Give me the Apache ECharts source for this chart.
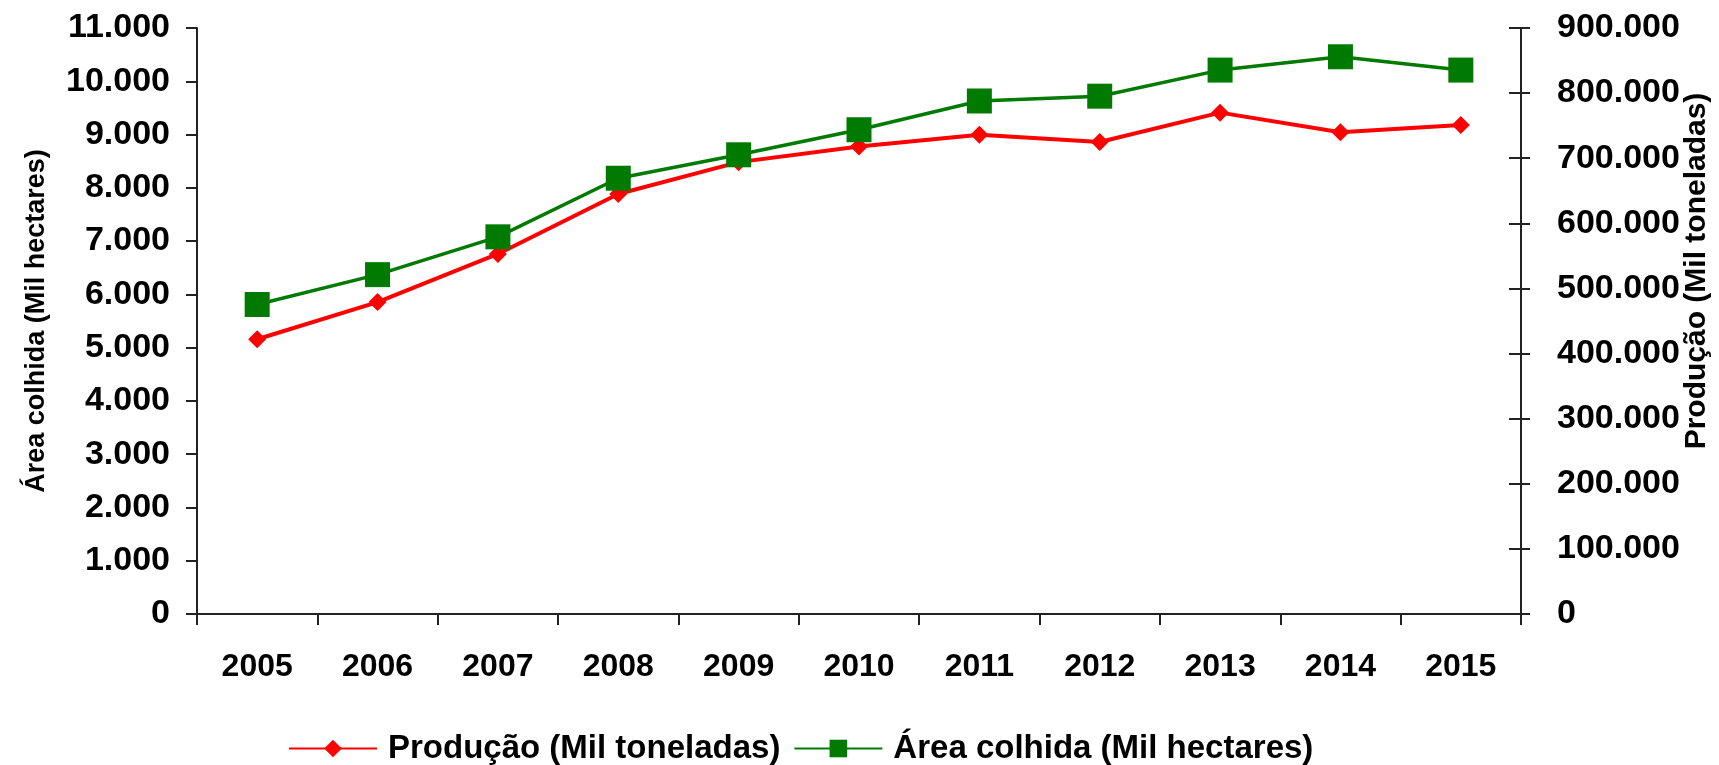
<!DOCTYPE html>
<html>
<head>
<meta charset="utf-8">
<script src="https://cdn.jsdelivr.net/npm/echarts@6/dist/echarts.min.js"></script>
<style>
  html, body { margin: 0; padding: 0; background: #fff; }
  #chart { width: 1719px; height: 765px; }
</style>
</head>
<body>
<div id="chart"></div>
<script>
// anos no eixo x
const years = ['2005', '2006', '2007', '2008', '2009', '2010', '2011', '2012', '2013', '2014', '2015']
// Produção (Mil toneladas) - eixo direito
const producao = [422000, 479000, 553000, 645000, 694000, 718000, 736000, 725000, 770000, 740000, 751000]
// Área colhida (Mil hectares) - eixo esquerdo
const areaColhida = [5810, 6370, 7080, 8180, 8620, 9090, 9630, 9720, 10210, 10460, 10210]

const fmt = v => String(v).replace(/\B(?=(\d{3})+(?!\d))/g, '.')

const font = 'Arial, "Liberation Sans", sans-serif'
const axisColor = '#222'

const chart = echarts.init(document.getElementById('chart'))
chart.setOption({
  backgroundColor: '#fff',
  animation: false,
  textStyle: { fontFamily: font },
  grid: { left: 197, right: 198, top: 28, bottom: 151, outerBoundsMode: 'none', containLabel: false },
  legend: {
    left: 283,
    top: 727,
    itemWidth: 88,
    itemHeight: 22,
    itemGap: 13,
    textStyle: { fontSize: 33, fontWeight: 'bold', color: '#000', padding: [0, 0, 0, 6] },
    data: ['Produção (Mil toneladas)', 'Área colhida (Mil hectares)']
  },
  xAxis: {
    type: 'category',
    data: years,
    boundaryGap: true,
    axisLine: { lineStyle: { color: axisColor, width: 2 } },
    axisTick: { show: true, length: 11, lineStyle: { color: axisColor, width: 2 } },
    axisLabel: { fontSize: 32, fontWeight: 'bold', color: '#000', margin: 37 }
  },
  yAxis: [
    {
      type: 'value',
      position: 'left',
      min: 0,
      max: 11000,
      interval: 1000,
      name: 'Área colhida (Mil hectares)',
      nameLocation: 'middle',
      nameGap: 147,
      nameMoveOverlap: false,
      nameTextStyle: { fontSize: 27, fontWeight: 'bold', color: '#000' },
      splitLine: { show: false },
      axisLine: { show: true, lineStyle: { color: axisColor, width: 2 } },
      axisTick: { show: true, length: 11, lineStyle: { color: axisColor, width: 2 } },
      axisLabel: { fontSize: 34, fontWeight: 'bold', color: '#000', margin: 27, formatter: fmt }
    },
    {
      type: 'value',
      position: 'right',
      min: 0,
      max: 900000,
      interval: 100000,
      name: 'Produção (Mil toneladas)',
      nameLocation: 'middle',
      nameGap: 161,
      nameRotate: 90,
      nameMoveOverlap: false,
      // empurra o título um pouco para cima, como no original
      nameTextStyle: { fontSize: 30, fontWeight: 'bold', color: '#000', padding: [0, 0, 0, 100] },
      splitLine: { show: false },
      axisLine: { show: true, lineStyle: { color: axisColor, width: 2 } },
      axisTick: { show: true, length: 9, lineStyle: { color: axisColor, width: 2 } },
      axisLabel: { fontSize: 34, fontWeight: 'bold', color: '#000', margin: 36, formatter: fmt }
    },
    {
      // só para os traços internos do eixo direito
      type: 'value',
      position: 'right',
      min: 0,
      max: 900000,
      interval: 100000,
      splitLine: { show: false },
      axisLine: { show: false },
      axisTick: { show: true, inside: true, length: 12, lineStyle: { color: axisColor, width: 2 } },
      axisLabel: { show: false }
    }
  ],
  series: [
    {
      name: 'Produção (Mil toneladas)',
      type: 'line',
      yAxisIndex: 1,
      data: producao,
      symbol: 'diamond',
      symbolSize: 18,
      color: '#ff0000',
      lineStyle: { color: '#ff0000', width: 4 },
      itemStyle: { color: '#ff0000' },
      z: 3
    },
    {
      name: 'Área colhida (Mil hectares)',
      type: 'line',
      yAxisIndex: 0,
      data: areaColhida,
      symbol: 'rect',
      symbolSize: 25,
      color: '#007a00',
      lineStyle: { color: '#007a00', width: 3.5 },
      itemStyle: { color: '#007a00' },
      z: 4
    }
  ]
})
</script>
</body>
</html>
